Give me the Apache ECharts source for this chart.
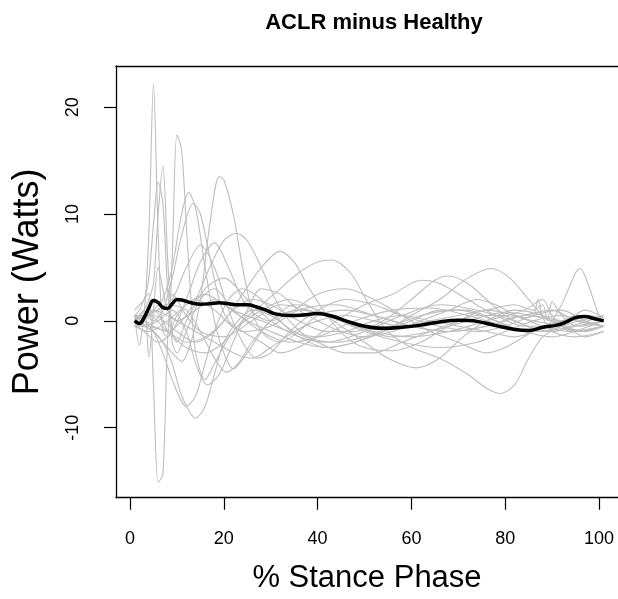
<!DOCTYPE html>
<html>
<head>
<meta charset="utf-8">
<script src="https://cdn.jsdelivr.net/npm/echarts@6/dist/echarts.min.js"></script>
<style>html,body{margin:0;padding:0;background:#fff}#c{width:618px;height:599px}</style>
</head>
<body>
<div id="c"></div>
<script>
var xTicks = [0, 20, 40, 60, 80, 100];
var yTicks = [-10, 0, 10, 20];

var meanCurve = [[1,0],[2,-0.25],[3,0.3],[4,1.2],[5,1.9],[6,1.7],[7,1.25],[8,1.15],[9,1.6],[10,2.0],[11,1.95],[13,1.7],[15,1.55],[17,1.6],[19,1.7],[21,1.6],[23,1.5],[25,1.5],[27,1.3],[29,1.0],[31,0.65],[34,0.5],[37,0.55],[40,0.68],[43,0.45],[46,0.0],[50,-0.5],[54,-0.7],[58,-0.6],[62,-0.4],[66,-0.1],[70,0.05],[74,-0.05],[78,-0.45],[82,-0.8],[85,-0.9],[88,-0.6],[91,-0.4],[93,-0.1],[95,0.3],[97,0.4],[99,0.2],[101,0.0]];

var s01 = [[1,0.5],[2,0.2],[3,0.8],[4,8],[5,22.2],[6,8],[7,-1],[8,-1.5],[10,0.5],[14,2],[18,1],[24,-1],[30,-0.5],[36,1],[44,1.5],[52,0.5],[60,-0.5],[68,-1],[76,-0.5],[84,0.5],[90,1],[95,0],[101,-0.5]];
var s02 = [[1,0.5],[2,1],[3,2],[4,2.6],[5,-6],[6,-15.1],[7,-14.4],[8,-2],[9,2.5],[10,2],[12,0.5],[15,-1],[20,-1.5],[26,0],[32,1.5],[38,1],[45,0],[52,-1],[60,-1.5],[68,-1],[76,0],[84,1],[88,2],[90,0.5],[94,-1],[98,-0.5],[101,0]];
var s03 = [[1,0],[2,0.5],[3,1],[4,2],[5,3.5],[6,10],[7,14.5],[8,6],[9,-1],[10,-2],[12,0],[16,3],[20,4],[25,2],[30,0],[36,-1.5],[42,-2],[50,-1],[58,0.5],[66,1.5],[74,1],[82,0],[88,-1],[94,-0.5],[101,0.5]];
var s04 = [[1,1],[2,1.5],[3,2],[4,4],[5,9],[6,13],[7,11],[8,3],[9,-2],[10,-3],[12,-1],[15,2],[18,3],[22,1],[28,-1],[34,-2],[40,-1.5],[48,0],[56,1],[64,1.2],[72,0.5],[80,-0.5],[86,-1],[92,-0.5],[97,1],[101,0.3]];
var s05 = [[1,0],[3,0.5],[5,1],[7,0],[8,-1],[9,6],[10,17.4],[11,16],[12,9],[13,2],[14,-3],[16,-5.5],[18,-4],[22,-1],[28,1],[34,2],[40,1],[48,-0.5],[56,-1.5],[64,-1],[72,0],[80,0.8],[86,0.5],[92,0],[96,-0.5],[101,0]];
var s06 = [[1,-0.5],[3,0],[5,1],[7,2],[9,5],[11,10],[12.5,12],[14,10.5],[16,5],[18,0],[20,-3],[22,-4.5],[25,-3],[30,0],[36,1],[42,0.5],[50,-1],[58,-2],[66,-2.5],[74,-2],[80,-1],[86,0],[92,0.5],[96,0],[101,-0.5]];
var s07 = [[1,0.5],[3,0.5],[5,0],[7,1],[9,4],[11,8],[13.5,11],[15,10],[17,6],[19,2],[21,0],[24,-1],[28,-2],[32,-3],[38,-2],[44,0],[50,1.5],[56,2.5],[62,3.8],[66,3.5],[72,2],[78,0.5],[84,-0.5],[90,-0.5],[95,0.5],[101,0]];
var s08 = [[1,-0.5],[3,-0.5],[5,-1],[7,-2],[9,-3],[11,-3.8],[13,-2],[15,2],[17,9],[19,13.5],[20,13.2],[22,10],[24,5],[26,1],[28,-1],[32,-2],[36,-1],[40,0.5],[46,1],[52,0.5],[60,-0.5],[68,-1],[76,-0.5],[84,0.5],[90,0],[95,-1],[101,-0.5]];
var s09 = [[1,0],[3,0],[5,-0.5],[8,-1],[11,0],[14,2],[17,5],[20,7.5],[22.7,8.2],[25,7.5],[28,5],[31,2],[34,0],[38,-1.5],[44,-2],[50,-1.5],[56,-0.5],[62,0.5],[70,1],[78,0],[84,-1],[90,-0.5],[96,0.5],[101,0]];
var s10 = [[1,0.2],[3,0.5],[6,1],[9,2],[12,5],[15,7.1],[18,5],[21,1],[24,-2],[27,-3.5],[30,-3],[34,-1],[40,1],[46,2],[52,1.5],[58,0.5],[66,-0.5],[74,-1],[80,-0.5],[86,0.5],[92,1],[97,0],[101,-0.5]];
var s11 = [[1,-0.3],[3,-1],[6,-2],[9,-1],[12,2],[15,5.5],[18,7.3],[21,5],[24,2],[27,0.5],[30,0],[35,1],[40,2.5],[46,3],[52,2],[58,0.5],[64,-1],[70,-2],[76,-3],[80,-2.5],[86,-1],[92,0],[97,0.5],[101,0.3]];
var s12 = [[1,0],[4,-0.5],[8,-1],[12,-2],[16,-1.5],[20,0],[24,2.5],[28,5],[32,6.5],[35,5.5],[38,3.2],[42,0.5],[46,-1.5],[50,-2.5],[56,-2.8],[62,-2],[68,-0.5],[74,0.5],[80,0.5],[86,0],[92,-0.5],[97,-1],[101,-0.5]];
var s13 = [[1,0],[4,0.5],[8,-1],[12,-2.5],[16,-3],[20,-2],[24,0],[28,1.5],[32,3],[36,4.5],[40,5.5],[43,5.7],[47,4.5],[51,1.5],[55,-1],[60,-2.5],[66,-3.5],[72,-5],[76,-6.3],[79,-6.8],[82,-6],[85,-3.5],[88,-1.5],[92,-0.5],[96,0],[101,0.5]];
var s14 = [[1,0],[3,-0.5],[5,-1],[7,-2],[9,-4],[11,-7],[14,-9.1],[16,-8],[18,-5],[20,-2],[23,0],[26,1],[30,0.5],[35,-1],[40,-2],[46,-3],[52,-3],[58,-2],[64,-1],[70,0],[76,1],[82,0.5],[88,-0.5],[94,-1],[101,-0.5]];
var s15 = [[1,0.5],[3,0],[5,-1],[7,-3],[9,-5.5],[12,-8],[14,-7],[16,-4],[18,-1],[21,2],[24,3],[28,2],[32,0],[36,-1.5],[42,-2.5],[48,-2],[54,-1],[60,0],[66,1],[72,1],[78,0],[84,-1],[90,-1.5],[95,-1],[101,-0.5]];
var s16 = [[1,0],[3,-0.5],[6,0],[9,1],[12,-1],[14,-4],[16.5,-6],[19,-5],[22,-2],[25,1],[28,3],[32,2.5],[36,1],[40,0],[45,-1],[50,-1.5],[56,-1],[62,0],[68,1],[74,2],[78,1.5],[84,0.3],[86,0.5],[87,2],[88,0.3],[90,-1],[95,-1.5],[101,-1]];
var s17 = [[1,0.3],[4,0.5],[8,1.5],[12,1],[15,-1],[18,-3.5],[20.5,-4.8],[23,-4],[26,-2],[30,0],[35,1.5],[40,1],[45,-0.5],[50,-2],[55,-3.5],[61,-4.4],[66,-3.5],[71,-1.5],[76,0],[82,1],[88,0.5],[93,-0.5],[97,-1.5],[101,-1]];
var s18 = [[1,0.5],[2,-2.3],[3,0],[5,1],[8,0.5],[12,-0.5],[16,-1.5],[20,-2.5],[23,-3.2],[26,-3.5],[30,-2.5],[35,-1],[40,0],[46,0.5],[52,0],[58,-0.5],[64,0],[70,0.5],[76,1],[82,1.5],[86,1],[88,1.5],[89,0],[90,1.8],[92,0.5],[94,0],[98,0.5],[101,0]];
var s19 = [[1,0],[3,1],[4,-3.4],[5,1],[6,5],[7,3],[8,1],[10,0],[14,1],[18,2],[22,1],[28,0],[34,-1],[40,-1.5],[46,-1],[52,0],[58,0.5],[64,0],[70,-0.5],[76,-1],[82,-1.5],[86,-1],[89,-0.5],[92,1.5],[95,4.5],[96,4.9],[98,3],[100,0.5],[101,0]];
var s20 = [[1,-0.5],[4,-1],[8,0],[12,1.5],[16,2.5],[20,1.5],[25,0],[30,-1],[36,-2],[42,-2.5],[48,-2],[54,-1],[60,0.5],[66,2],[72,4],[77,4.9],[81,4],[85,2],[88,0.5],[92,-0.5],[96,-1],[101,-0.5]];
var s21 = [[1,0],[5,0.5],[10,-1],[14,-2],[18,-1],[22,1],[26,2],[30,1.5],[36,0],[42,-1],[48,-1],[54,0],[60,2],[65,3.8],[68,4.2],[72,3.5],[76,2],[80,0.5],[85,-0.5],[90,-1],[95,-0.5],[101,0]];

var subjects = [s01,s02,s03,s04,s05,s06,s07,s08,s09,s10,s11,s12,s13,s14,s15,s16,s17,s18,s19,s20,s21];

var series = subjects.map(function (d) {
  return {
    type: 'line', data: d, showSymbol: false, smooth: 0.3, silent: true,
    xAxisIndex: 0, yAxisIndex: 0,
    lineStyle: { color: '#bebebe', width: 1.1 }, z: 2
  };
});
series.push({
  type: 'line', data: meanCurve, showSymbol: false, smooth: 0.4, silent: true,
  xAxisIndex: 0, yAxisIndex: 0,
  lineStyle: { color: '#000000', width: 3.5 }, z: 5
});

var boxLine = { show: true, onZero: false, lineStyle: { color: '#000', width: 1.3 } };
var XMIN = -2.99, XMAX = 104.05;

var chart = echarts.init(document.getElementById('c'), null, { renderer: 'canvas' });
chart.setOption({
  animation: false,
  backgroundColor: '#ffffff',
  title: {
    text: 'ACLR minus Healthy', left: 369, top: 7, textAlign: 'center',
    textStyle: { fontFamily: 'Liberation Sans', fontWeight: 'bold', fontSize: 22, color: '#000' }
  },
  grid: { left: 116, top: 66, right: 0, bottom: 101.3, show: false },
  xAxis: [{
    type: 'value', min: XMIN, max: XMAX, position: 'bottom',
    name: '% Stance Phase', nameLocation: 'middle', nameGap: 65,
    nameTextStyle: { fontFamily: 'Liberation Sans', fontSize: 31, color: '#000' },
    axisLine: boxLine,
    splitLine: { show: false },
    axisTick: { show: true, inside: false, customValues: xTicks, length: 12, lineStyle: { color: '#000', width: 1.2 } },
    axisLabel: { customValues: xTicks, margin: 32, fontFamily: 'Liberation Sans', fontSize: 18, color: '#000' }
  }, {
    type: 'value', min: XMIN, max: XMAX, position: 'top',
    axisLine: boxLine,
    splitLine: { show: false },
    axisTick: { show: false },
    axisLabel: { show: false }
  }],
  yAxis: {
    type: 'value', min: -16.55, max: 23.85,
    name: 'Power (Watts)', nameLocation: 'middle', nameGap: 70,
    nameTextStyle: { fontFamily: 'Liberation Sans', fontSize: 36, color: '#000' },
    axisLine: boxLine,
    splitLine: { show: false },
    axisTick: { show: true, inside: false, customValues: yTicks, length: 12, lineStyle: { color: '#000', width: 1.2 } },
    axisLabel: { customValues: yTicks, rotate: 90, margin: 34, fontFamily: 'Liberation Sans', fontSize: 18, color: '#000' }
  },
  series: series
});
</script>
</body>
</html>
